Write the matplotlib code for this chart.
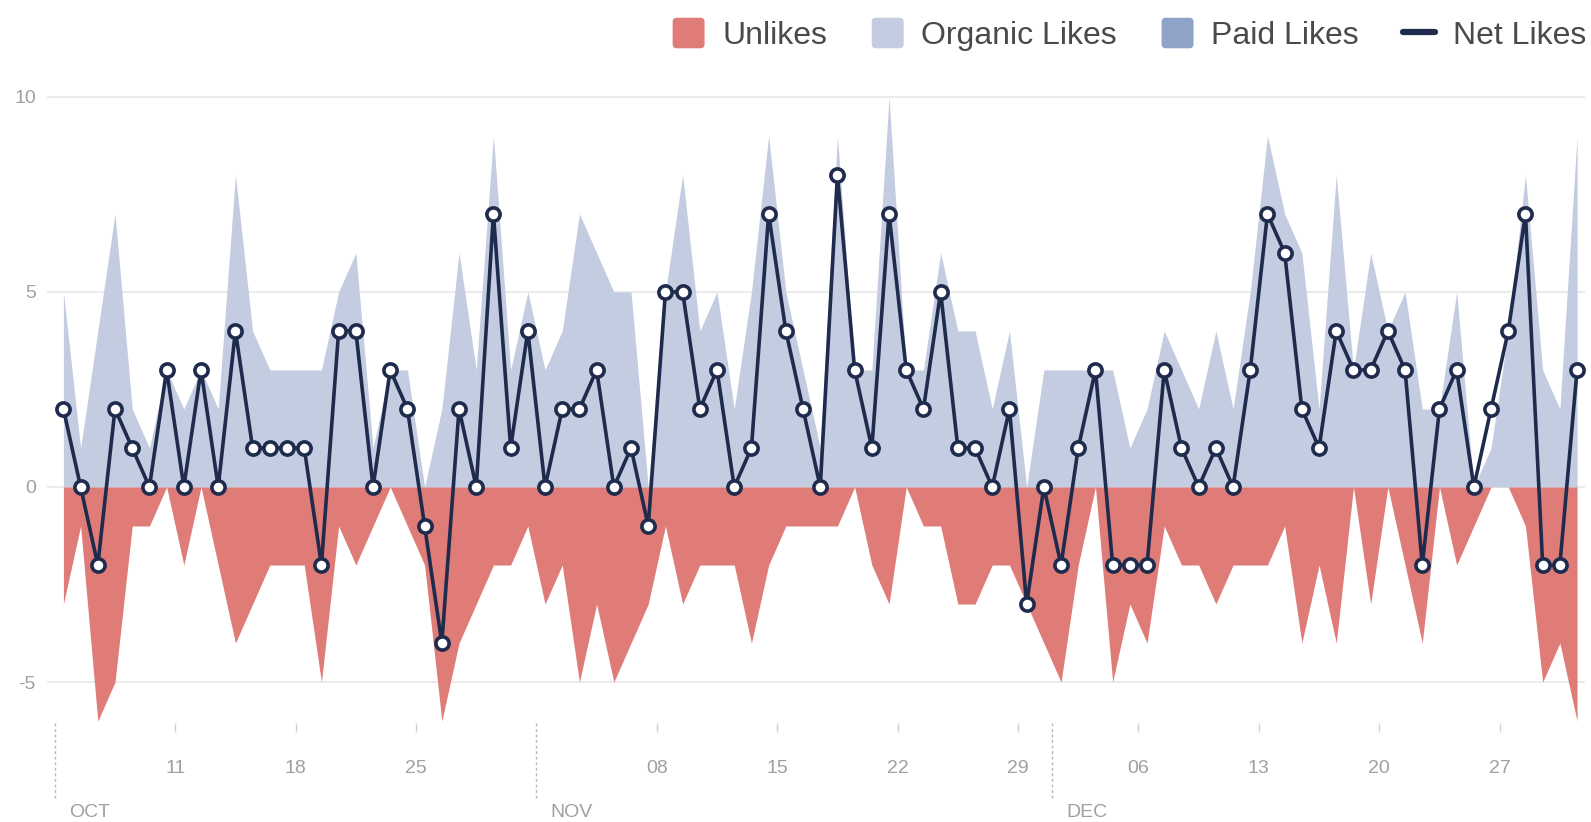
import pandas as pd
import numpy as np
import matplotlib
matplotlib.use("Agg")
import matplotlib.pyplot as plt
import matplotlib.dates as mdates
from matplotlib.patches import Patch, FancyBboxPatch
from matplotlib.lines import Line2D
from matplotlib.legend_handler import HandlerPatch

plt.rcParams['font.family'] = ['Liberation Sans', 'DejaVu Sans']
plt.rcParams['axes.unicode_minus'] = False

# ---------- data (one value per day) ----------
start_day = "2015-10-04"

net_likes = [2, 0, -2, 2, 1, 0, 3, 0, 3, 0, 4, 1, 1, 1, 1, -2, 4, 4, 0, 3,
             2, -1, -4, 2, 0, 7, 1, 4, 0, 2, 2, 3, 0, 1, -1, 5, 5, 2, 3, 0,
             1, 7, 4, 2, 0, 8, 3, 1, 7, 3, 2, 5, 1, 1, 0, 2, -3, 0, -2, 1,
             3, -2, -2, -2, 3, 1, 0, 1, 0, 3, 7, 6, 2, 1, 4, 3, 3, 4, 3, -2,
             2, 3, 0, 2, 4, 7, -2, -2, 3]

organic_likes = [5, 1, 4, 7, 2, 1, 3, 2, 3, 2, 8, 4, 3, 3, 3, 3, 5, 6, 1, 3,
                 3, 0, 2, 6, 3, 9, 3, 5, 3, 4, 7, 6, 5, 5, 0, 5, 8, 4, 5, 2,
                 5, 9, 5, 3, 1, 9, 3, 3, 10, 3, 3, 6, 4, 4, 2, 4, 0, 3, 3, 3,
                 3, 3, 1, 2, 4, 3, 2, 4, 2, 5, 9, 7, 6, 2, 8, 3, 6, 4, 5, 2,
                 2, 5, 0, 1, 4, 8, 3, 2, 9]

paid_likes = [0, 0, 0, 0, 0, 0, 0, 0, 0, 0, 0, 0, 0, 0, 0, 0, 0, 0, 0, 0,
              0, 0, 0, 0, 0, 0, 0, 0, 0, 0, 0, 0, 0, 0, 0, 0, 0, 0, 0, 0,
              0, 0, 0, 0, 0, 0, 0, 0, 0, 0, 0, 0, 0, 0, 0, 0, 0, 0, 0, 0,
              0, 0, 0, 0, 0, 0, 0, 0, 0, 0, 0, 0, 0, 0, 0, 0, 0, 0, 0, 0,
              0, 0, 0, 0, 0, 0, 0, 0, 0]

unlikes = [3, 1, 6, 5, 1, 1, 0, 2, 0, 2, 4, 3, 2, 2, 2, 5, 1, 2, 1, 0,
           1, 2, 6, 4, 3, 2, 2, 1, 3, 2, 5, 3, 5, 4, 3, 1, 3, 2, 2, 2,
           4, 2, 1, 1, 1, 1, 0, 2, 3, 0, 1, 1, 3, 3, 2, 2, 3, 4, 5, 2,
           0, 5, 3, 4, 1, 2, 2, 3, 2, 2, 2, 1, 4, 2, 4, 0, 3, 0, 2, 4,
           0, 2, 1, 0, 0, 1, 5, 4, 6]

tick_days = ["2015-10-11", "2015-10-18", "2015-10-25", "2015-11-08",
             "2015-11-15", "2015-11-22", "2015-11-29", "2015-12-06",
             "2015-12-13", "2015-12-20", "2015-12-27"]
tick_labels = ["11", "18", "25", "08", "15", "22", "29", "06", "13", "20", "27"]

month_starts = ["2015-10-04", "2015-11-01", "2015-12-01"]
month_labels = ["OCT", "NOV", "DEC"]

# ---------- colours ----------
UNLIKE = "#e07c78"
ORGANIC = "#c3cce0"
PAID = "#8fa2c8"
NAVY = "#1f2b4d"
GREY_TXT = "#a0a0a0"


class RoundBox(HandlerPatch):
    # rounded square legend swatch
    def create_artists(self, legend, orig_handle, xdescent, ydescent,
                       width, height, fontsize, trans):
        p = FancyBboxPatch((-xdescent, -ydescent - 0.15 * height), width, height * 1.25,
                           boxstyle="round,pad=0,rounding_size=3",
                           facecolor=orig_handle.get_facecolor(), lw=0, transform=trans)
        return [p]


# daily values sit in the middle of each day
days = pd.date_range(start_day, periods=len(net_likes), freq="D") + pd.Timedelta(hours=12)
organic = np.array(organic_likes)
paid = np.array(paid_likes)
unl = np.array(unlikes)

fig = plt.figure(figsize=(15.91, 8.22), dpi=100)
ax = fig.add_axes([0.0295, 0.1204, 0.9667, 0.7713])

ax.fill_between(days, 0, organic, color=ORGANIC, lw=0, zorder=2)
ax.fill_between(days, organic, organic + paid, color=PAID, lw=0, zorder=2)
ax.fill_between(days, 0, -unl, color=UNLIKE, lw=0, zorder=2)
ax.plot(days, net_likes, color=NAVY, lw=2.6, marker="o", ms=9.5,
        mfc="white", mec=NAVY, mew=2.6, zorder=4)

ax.set_xlim(days[0] - pd.Timedelta(hours=23), days[-1] + pd.Timedelta(hours=11))
ax.set_ylim(-6.05, 10.2)

ax.set_yticks([-5, 0, 5, 10])
ax.yaxis.grid(True, color="#e8e8e8", lw=1.2)
ax.set_axisbelow(True)
for s in ax.spines.values():
    s.set_visible(False)

ax.set_xticks(pd.to_datetime(tick_days))
ax.set_xticklabels(tick_labels)
ax.tick_params(axis="x", length=6.5, width=1, color="#d2d2d2", pad=20,
               labelsize=14, labelcolor=GREY_TXT)
ax.tick_params(axis="y", length=0, pad=8, labelsize=14, labelcolor=GREY_TXT)

# month separators below the axis
trans = ax.get_xaxis_transform()
for d, lab in zip(month_starts, month_labels):
    x = mdates.date2num(pd.Timestamp(d))
    ax.plot([x, x], [0, -0.122], transform=trans, clip_on=False,
            color="#b5b5b5", lw=1, ls=(0, (2, 2)))
    ax.annotate(lab, xy=(x, 0), xycoords=trans, xytext=(14, -89),
                textcoords="offset pixels", ha="left", va="center",
                fontsize=14, color=GREY_TXT)

handles = [Patch(facecolor=UNLIKE), Patch(facecolor=ORGANIC), Patch(facecolor=PAID),
           Line2D([], [], color=NAVY, lw=4.5, solid_capstyle="round")]
labels = ["Unlikes", "Organic Likes", "Paid Likes", "Net Likes"]
leg = fig.legend(handles, labels, loc="center right", bbox_to_anchor=(0.997, 0.957),
                 ncol=4, frameon=False, fontsize=23, handlelength=1.0, handleheight=0.8,
                 handletextpad=0.55, columnspacing=1.4, borderpad=0, borderaxespad=0,
                 handler_map={Patch: RoundBox()})
for t in leg.get_texts():
    t.set_color("#4a4a4a")

fig.savefig("out.png", dpi=100)
